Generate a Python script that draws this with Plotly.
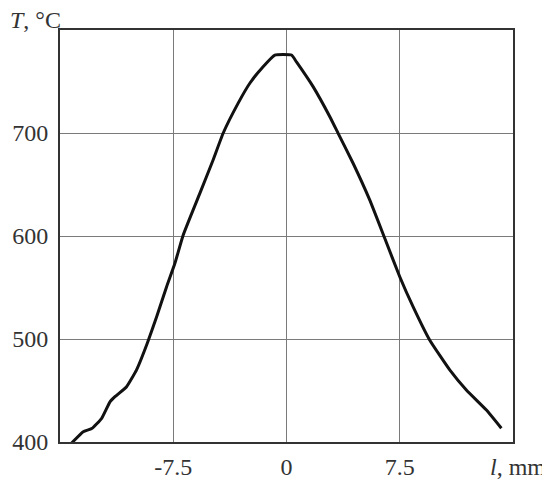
import plotly.graph_objects as go

# Distance l (mm) and temperature T (°C)
l_mm = [-14.23, -13.46, -12.9, -12.24, -11.69, -11.36, -10.59, -9.93, -9.22, -8.6,
        -7.94, -7.39, -6.84, -5.74, -4.86, -4.19, -3.2, -2.43, -1.55, -0.77,
        0.33, 0.66, 1.76, 2.87, 3.42, 4.41, 5.51, 6.5, 7.5, 8.38,
        9.48, 10.81, 11.91, 13.24, 14.23]
T_c = [399, 410, 413, 423, 439, 444, 453.7, 470, 495.8, 521.7,
       550.8, 573.5, 601, 641.4, 673.8, 700, 729, 748.3, 764.4, 775.7,
       775.7, 769, 745, 715.8, 699.7, 670.6, 635, 598, 560.5, 531.4,
       499, 470, 450.5, 431, 413.3]

x_ticks = [-7.5, 0, 7.5]
x_ticktext = ["-7.5", "0", "7.5"]
y_ticks = [400, 500, 600, 700]
y_ticktext = ["400", "500", "600", "700"]

FONT = "Liberation Serif, Times New Roman, serif"
TXT = "#333333"

fig = go.Figure()
fig.add_trace(go.Scatter(x=l_mm, y=T_c, mode="lines", line_shape="spline",
                         line=dict(color="#111111", width=3, smoothing=0.4),
                         showlegend=False, hoverinfo="skip"))

fig.update_layout(
    width=542, height=473,
    margin=dict(l=52, r=37, t=22, b=39, autoexpand=False),
    paper_bgcolor="white", plot_bgcolor="white",
    font=dict(family=FONT, size=24, color=TXT),
    xaxis=dict(range=[-15, 15], tickvals=x_ticks, ticktext=x_ticktext,
               showgrid=True, gridcolor="#7a7a7a", gridwidth=1,
               showline=True, linecolor="#333333", linewidth=2, mirror=True,
               zeroline=False, ticks="", ticklabelstandoff=2, automargin=False,
               tickfont=dict(family=FONT, size=24, color=TXT)),
    yaxis=dict(range=[400, 800], tickvals=y_ticks, ticktext=y_ticktext,
               showgrid=True, gridcolor="#7a7a7a", gridwidth=1,
               showline=True, linecolor="#333333", linewidth=2, mirror=True,
               zeroline=False, ticks="", ticklabelstandoff=5, automargin=False,
               tickfont=dict(family=FONT, size=24, color=TXT)),
    annotations=[
        dict(text="<i>T</i>, °C", xref="paper", yref="paper", x=-0.115, y=1.0,
             xanchor="left", yanchor="middle", showarrow=False, yshift=10,
             font=dict(family=FONT, size=24, color=TXT)),
        dict(text="<i>l</i>, mm", xref="paper", yref="paper", x=0.945, y=0,
             xanchor="left", yanchor="middle", showarrow=False, yshift=-25,
             font=dict(family=FONT, size=24, color=TXT)),
    ],
)

fig.write_html("out.html")
